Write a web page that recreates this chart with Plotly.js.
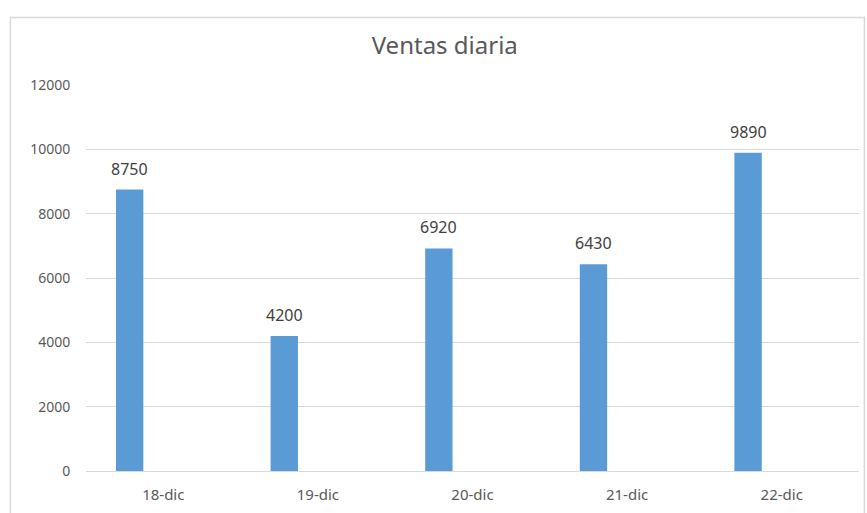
<!DOCTYPE html>
<html>
<head>
<meta charset="utf-8">
<script src="https://cdn.plot.ly/plotly-3.0.1.min.js"></script>
<style>html,body{margin:0;padding:0;background:#fff;}#chart{width:867px;height:513px;}</style>
</head>
<body>
<div id="chart"></div>
<script>
var categories = ["18-dic", "19-dic", "20-dic", "21-dic", "22-dic"];
var ventas = [8750, 4200, 6920, 6430, 9890];
var yTicks = [0, 2000, 4000, 6000, 8000, 10000, 12000];

var trace = {
  type: 'bar',
  x: categories,
  y: ventas,
  marker: {color: '#5b9bd5', line: {width: 0}},
  width: 0.177,
  offset: -0.306,
  hoverinfo: 'x+y'
};

var labels = categories.map(function (c, i) {
  return {
    x: c, y: ventas[i], xref: 'x', yref: 'y',
    text: String(ventas[i]),
    showarrow: false,
    xanchor: 'center', yanchor: 'bottom',
    xshift: -33.7, yshift: 8,
    font: {family: 'Noto Sans, sans-serif', size: 16, color: '#404040'}
  };
});

var layout = {
  width: 867, height: 513,
  margin: {l: 86, r: 8, t: 85, b: 42},
  paper_bgcolor: '#ffffff',
  plot_bgcolor: '#ffffff',
  showlegend: false,
  title: {
    text: 'Ventas diaria',
    font: {family: 'Noto Sans, sans-serif', size: 24, color: '#595959'},
    x: 0.513, xanchor: 'center', y: 0.912, yanchor: 'middle'
  },
  xaxis: {
    type: 'category',
    showgrid: false,
    zeroline: false,
    showline: false,
    ticks: 'outside', ticklen: 10, tickcolor: 'rgba(0,0,0,0)',
    tickfont: {family: 'Noto Sans, sans-serif', size: 15, color: '#595959'},
    range: [-0.5, 4.5]
  },
  yaxis: {
    range: [0, 12000],
    tickvals: yTicks,
    ticktext: yTicks.map(String),
    showgrid: true, gridcolor: '#d9d9d9', gridwidth: 1,
    zeroline: true, zerolinecolor: '#d9d9d9', zerolinewidth: 1,
    showline: false,
    ticks: 'outside', ticklen: 12, tickcolor: 'rgba(0,0,0,0)',
    tickfont: {family: 'Noto Sans, sans-serif', size: 14, color: '#595959'}
  },
  annotations: labels,
  shapes: [{
    type: 'rect', xref: 'paper', yref: 'paper',
    x0: -0.0977, x1: 1.007, y0: -0.12, y1: 1.175,
    line: {color: '#d9d9d9', width: 1.5},
    fillcolor: 'rgba(0,0,0,0)', layer: 'below'
  }]
};

Plotly.newPlot('chart', [trace], layout, {displayModeBar: false, staticPlot: true});
</script>
</body>
</html>
